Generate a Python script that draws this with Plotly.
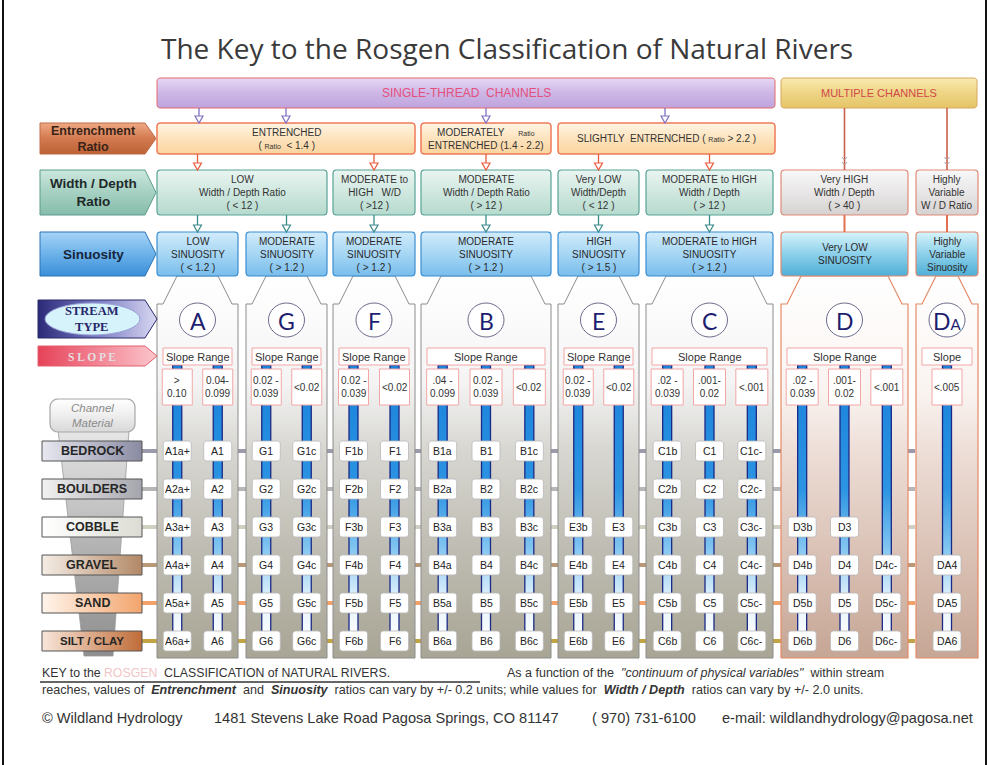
import math
import plotly.graph_objects as go

# ---------------- data (text content of the key) ----------------
TITLE = "The Key to the Rosgen Classification of Natural Rivers"
GROUPS = ["SINGLE-THREAD  CHANNELS", "MULTIPLE CHANNELS"]
ROW_NAMES = ["Entrenchment<br>Ratio", "Width / Depth<br>Ratio", "Sinuosity"]
STREAM_TYPES = ["A", "G", "F", "B", "E", "C", "D", "DA"]
STREAM_LABELS = ["A", "G", "F", "B", "E", "C", "D", "D<span style='font-size:15px'>A</span>"]

ENTRENCH_TEXT = [
    "ENTRENCHED<br>( <span style='font-size:7px'>Ratio</span>  &lt; 1.4 )",
    "MODERATELY     <span style='font-size:7px'>Ratio</span><br>ENTRENCHED (1.4 - 2.2)",
    "SLIGHTLY  ENTRENCHED ( <span style='font-size:7px'>Ratio</span> &gt; 2.2 )",
]
ENTRENCH_SPAN = [("A", "F"), ("B", "B"), ("E", "C")]

WD_TEXT = [
    "LOW<br>Width / Depth Ratio<br>( &lt; 12 )",
    "MODERATE to<br>HIGH   W/D<br>( &gt;12 )",
    "MODERATE<br>Width / Depth Ratio<br>( &gt; 12 )",
    "Very LOW<br>Width/Depth<br>( &lt; 12 )",
    "MODERATE to HIGH<br>Width / Depth<br>( &gt; 12 )",
    "Very HIGH<br>Width / Depth<br>( &gt; 40 )",
    "Highly<br>Variable<br>W / D Ratio",
]
WD_SPAN = [("A", "G"), ("F", "F"), ("B", "B"), ("E", "E"), ("C", "C"), ("D", "D"), ("DA", "DA")]

SIN_TEXT = [
    "LOW<br>SINUOSITY<br>( &lt; 1.2 )",
    "MODERATE<br>SINUOSITY<br>( &gt; 1.2 )",
    "MODERATE<br>SINUOSITY<br>( &gt; 1.2 )",
    "MODERATE<br>SINUOSITY<br>( &gt; 1.2 )",
    "HIGH<br>SINUOSITY<br>( &gt; 1.5 )",
    "MODERATE to HIGH<br>SINUOSITY<br>( &gt; 1.2 )",
    "Very LOW<br>SINUOSITY",
    "Highly<br>Variable<br>Sinuosity",
]

SLOPE_HEAD = ["Slope Range"] * 7 + ["Slope"]
SLOPE_VALUES = [
    ["&gt;<br>0.10", "0.04-<br>0.099"],
    ["0.02 -<br>0.039", "&lt;0.02"],
    ["0.02 -<br>0.039", "&lt;0.02"],
    [".04 -<br>0.099", "0.02 -<br>0.039", "&lt;0.02"],
    ["0.02 -<br>0.039", "&lt;0.02"],
    [".02 -<br>0.039", ".001-<br>0.02", "&lt;.001"],
    [".02 -<br>0.039", ".001-<br>0.02", "&lt;.001"],
    ["&lt;.005"],
]

MATERIALS = ["BEDROCK", "BOULDERS", "COBBLE", "GRAVEL", "SAND", "SILT / CLAY"]

CELLS = [
    [["A1a+", "A2a+", "A3a+", "A4a+", "A5a+", "A6a+"], ["A1", "A2", "A3", "A4", "A5", "A6"]],
    [["G1", "G2", "G3", "G4", "G5", "G6"], ["G1c", "G2c", "G3c", "G4c", "G5c", "G6c"]],
    [["F1b", "F2b", "F3b", "F4b", "F5b", "F6b"], ["F1", "F2", "F3", "F4", "F5", "F6"]],
    [["B1a", "B2a", "B3a", "B4a", "B5a", "B6a"], ["B1", "B2", "B3", "B4", "B5", "B6"],
     ["B1c", "B2c", "B3c", "B4c", "B5c", "B6c"]],
    [[None, None, "E3b", "E4b", "E5b", "E6b"], [None, None, "E3", "E4", "E5", "E6"]],
    [["C1b", "C2b", "C3b", "C4b", "C5b", "C6b"], ["C1", "C2", "C3", "C4", "C5", "C6"],
     ["C1c-", "C2c-", "C3c-", "C4c-", "C5c-", "C6c-"]],
    [[None, None, "D3b", "D4b", "D5b", "D6b"], [None, None, "D3", "D4", "D5", "D6"],
     [None, None, None, "D4c-", "D5c-", "D6c-"]],
    [[None, None, None, "DA4", "DA5", "DA6"]],
]

NOTE_KEY = "KEY to the <span style='color:#f2c6c6'>ROSGEN</span>  CLASSIFICATION of NATURAL RIVERS."
NOTE_A = "As a function of the  <i>\"continuum of physical variables\"</i>  within stream"
NOTE_B = ("reaches, values of  <b><i>Entrenchment</i></b>  and  <b><i>Sinuosity</i></b>  ratios can vary by +/- 0.2 units; "
          "while values for  <b><i>Width / Depth</i></b>  ratios can vary by +/- 2.0 units.")
FOOTER = ["© Wildland Hydrology", "1481 Stevens Lake Road Pagosa Springs, CO 81147",
          "( 970) 731-6100", "e-mail: wildlandhydrology@pagosa.net"]

# ---------------- layout geometry / style ----------------
W, H = 989, 765
COL_X0 = [157, 246, 333, 421, 558, 646, 781, 916]
COL_X1 = [238, 327, 415, 551, 639, 773, 908, 978]
GROUP_X = [(157, 775), (781, 977)]
GROUP_Y = (78, 108)
ENT_Y = (123, 154)
WD_Y = (170, 215)
SIN_Y = (232, 276)
SHOULDER_Y = 304
PANEL_BOT = 658
CIRCLE_Y = 320
SLOPE_HEAD_Y = (348, 365)
SLOPE_VAL_Y = (369, 405)
ROW_Y = [451, 489, 527, 565, 603, 641]
MAT_COLORS = [("#e8e8f0", "#8a8aa2"), ("#f2f2f2", "#a4a4ac"), ("#ffffff", "#dcdcd4"),
               ("#f5ede6", "#b28866"), ("#fff5ec", "#f2a46c"), ("#f8e6da", "#bf6c38")]
CONN_COLORS = ["#9a9aaa", "#b6b6b8", "#cfcfc2", "#b89876", "#f2a268", "#c2a444"]
FONT = "Liberation Sans Narrow, Arial Narrow, Liberation Sans, Arial, sans-serif"
FONT_R = "Liberation Sans, Arial, sans-serif"

fig = go.Figure()
shapes = []
annots = []


def idx(t):
    return STREAM_TYPES.index(t)


def rr_pts(x0, y0, x1, y1, r, n=5):
    pts = []
    corners = [(x1 - r, y0 + r, -90, 0), (x1 - r, y1 - r, 0, 90),
               (x0 + r, y1 - r, 90, 180), (x0 + r, y0 + r, 180, 270)]
    for cx, cy, a0, a1 in corners:
        for k in range(n + 1):
            a = math.radians(a0 + (a1 - a0) * k / n)
            pts.append((cx + r * math.cos(a), cy + r * math.sin(a)))
    pts.append(pts[0])
    return [p[0] for p in pts], [p[1] for p in pts]


def path_of(xs, ys):
    return "M " + " L ".join(f"{x:.2f},{y:.2f}" for x, y in zip(xs, ys)) + " Z"


def gpoly(xs, ys, colors, line="#888", lw=1.0, orient="vertical"):
    if orient == "vertical":
        start, stop = min(ys), max(ys)
    else:
        start, stop = min(xs), max(xs)
    if isinstance(colors[0], (list, tuple)):
        cs = [list(c) for c in colors]
    else:
        n = len(colors)
        cs = [[i / (n - 1), c] for i, c in enumerate(colors)]
    fig.add_trace(go.Scatter(
        x=xs, y=ys, mode="lines", fill="toself",
        fillgradient=dict(type=orient, colorscale=cs, start=start, stop=stop),
        line=dict(color=line, width=lw), hoverinfo="skip", showlegend=False))


def text(x, y, s, size=10, color="#333", family=FONT, xanchor="center", align="center"):
    annots.append(dict(x=x, y=y, xref="x", yref="y", text=s, showarrow=False,
                       font=dict(size=size, color=color, family=family),
                       xanchor=xanchor, yanchor="middle", align=align))


def arrow(x, y0, y1, color):
    shapes.append(dict(type="line", x0=x, x1=x, y0=y0, y1=y1 - 6, xref="x", yref="y",
                       line=dict(color=color, width=1.3), layer="above"))
    shapes.append(dict(type="path", path=f"M {x-4},{y1-7} L {x+4},{y1-7} L {x},{y1} Z",
                       xref="x", yref="y", fillcolor="white", line=dict(color=color, width=1.2),
                       layer="above"))


def sub_centers(i):
    x0, x1 = COL_X0[i], COL_X1[i]
    n = len(CELLS[i])
    w = x1 - x0
    if n == 1:
        return [(x0 + x1) / 2]
    if n == 2:
        return [x0 + w * 0.25, x0 + w * 0.75]
    return [x0 + w / 6, x0 + w / 2, x0 + w * 5 / 6]


# ---- material connector lines (behind panels)
for r, y in enumerate(ROW_Y):
    shapes.append(dict(type="line", x0=140, x1=915, y0=y, y1=y, xref="x", yref="y",
                       line=dict(color=CONN_COLORS[r], width=4), layer="below"))

# ---- panels
for i, t in enumerate(STREAM_TYPES):
    x0, x1 = COL_X0[i], COL_X1[i]
    xs = [x0, x0, x0 + 6, x0 + 20, x1 - 20, x1 - 6, x1, x1, x0]
    ys = [PANEL_BOT, SHOULDER_Y, SHOULDER_Y, SIN_Y[1], SIN_Y[1], SHOULDER_Y, SHOULDER_Y, PANEL_BOT, PANEL_BOT]
    if t in ("D", "DA"):
        gpoly(xs, ys, [[0, "#ffffff"], [0.3, "#faf4f1"], [0.45, "#eedfd8"], [0.7, "#dcc4b8"],
                       [1, "#c6a695"]], line="#e48a66", lw=1.2)
    else:
        gpoly(xs, ys, [[0, "#ffffff"], [0.28, "#f4f4f4"], [0.45, "#d8d7d2"], [0.7, "#c0beb4"],
                       [1, "#a8a595"]], line="#8c8c8c", lw=1)

# ---- blue bars
for i, t in enumerate(STREAM_TYPES):
    for xc in sub_centers(i):
        xs = [xc - 4.5, xc + 4.5, xc + 4.5, xc - 4.5, xc - 4.5]
        ys = [SLOPE_HEAD_Y[1], SLOPE_HEAD_Y[1], ROW_Y[-1], ROW_Y[-1], SLOPE_HEAD_Y[1]]
        gpoly(xs, ys, [[0, "#1a82da"], [0.45, "#2c94e2"], [0.65, "#7cc2f0"], [0.85, "#e2f2fc"],
                       [1, "#ffffff"]], line="#1b2a86", lw=1.3)

# ---- channel-group header boxes
xs, ys = rr_pts(GROUP_X[0][0], GROUP_Y[0], GROUP_X[0][1], GROUP_Y[1], 3)
gpoly(xs, ys, ["#e6d8f4", "#cdb6e6", "#bfa4dd"], line="#e46a6a", lw=1)
text((GROUP_X[0][0] + GROUP_X[0][1]) / 2, 93, GROUPS[0], size=12, color="#e4507c")
xs, ys = rr_pts(GROUP_X[1][0], GROUP_Y[0], GROUP_X[1][1], GROUP_Y[1], 3)
gpoly(xs, ys, ["#f8eab0", "#eed585", "#e4c466"], line="#d8a860", lw=1)
text((GROUP_X[1][0] + GROUP_X[1][1]) / 2, 93, GROUPS[1], size=11, color="#d04848")

# ---- row label tags
TAG_COLORS = [(["#eeaa84", "#d37a50", "#bd6236"], "#c06a48", "#3a2418", 12.5),
              (["#cde8de", "#a5d0c2", "#86bcaa"], "#5b9c8c", "#1e2a2a", 13.5),
              (["#a6d4f6", "#6cb2ea", "#3a8ed8"], "#2a72b6", "#16243c", 13.5)]
for k, (y0, y1) in enumerate([ENT_Y, WD_Y, SIN_Y]):
    cols, lc, tc, fs = TAG_COLORS[k]
    xs = [40, 145, 156, 145, 40, 40]
    ys = [y0, y0, (y0 + y1) / 2, y1, y1, y0]
    gpoly(xs, ys, cols, line=lc, lw=1)
    text(93, (y0 + y1) / 2, f"<b>{ROW_NAMES[k]}</b>", size=fs, color=tc, family=FONT_R)

# ---- entrenchment boxes
for k, (a, b) in enumerate(ENTRENCH_SPAN):
    x0, x1 = COL_X0[idx(a)], COL_X1[idx(b)]
    if k == 2:
        x1 = 775
    xs, ys = rr_pts(x0, ENT_Y[0], x1, ENT_Y[1], 3)
    gpoly(xs, ys, ["#fff5e4", "#fde3bd", "#fbd49e"], line="#f07a58", lw=1.5)
    text((x0 + x1) / 2, (ENT_Y[0] + ENT_Y[1]) / 2, ENTRENCH_TEXT[k], size=10, color="#333")

# ---- width/depth boxes
for k, (a, b) in enumerate(WD_SPAN):
    x0, x1 = COL_X0[idx(a)], COL_X1[idx(b)]
    xs, ys = rr_pts(x0, WD_Y[0], x1, WD_Y[1], 3)
    if a in ("D", "DA"):
        gpoly(xs, ys, ["#f8f8f8", "#e8e6e6", "#d6d2d2"], line="#de8a78", lw=1.2)
    else:
        gpoly(xs, ys, ["#eaf5f1", "#cfe7df", "#b6dace"], line="#58a496", lw=1.2)
    text((x0 + x1) / 2, (WD_Y[0] + WD_Y[1]) / 2, WD_TEXT[k], size=10, color="#333")

# ---- sinuosity boxes
for i, t in enumerate(STREAM_TYPES):
    x0, x1 = COL_X0[i], COL_X1[i]
    xs, ys = rr_pts(x0, SIN_Y[0], x1, SIN_Y[1], 3)
    if t in ("D", "DA"):
        gpoly(xs, ys, ["#d8f4fb", "#8cd0ea", "#4eaed6"], line="#e08a70", lw=1.2)
    else:
        gpoly(xs, ys, ["#d2ecfb", "#a6d6f4", "#78bdec"], line="#3a8ed0", lw=1.2)
    text((x0 + x1) / 2, (SIN_Y[0] + SIN_Y[1]) / 2, SIN_TEXT[i], size=10, color="#2a2a2a")

# ---- arrows
for x in [199, 286, 486, 665]:
    arrow(x, GROUP_Y[1], ENT_Y[0], "#8070c4")
for t in ["A", "F", "B", "E", "C"]:
    arrow((COL_X0[idx(t)] + COL_X1[idx(t)]) / 2, ENT_Y[1], WD_Y[0], "#ec5a3c")
for t in ["A", "G", "F", "B", "E", "C"]:
    arrow((COL_X0[idx(t)] + COL_X1[idx(t)]) / 2, WD_Y[1], SIN_Y[0], "#3a8a8c")
for t in ["D", "DA"]:
    xc = (COL_X0[idx(t)] + COL_X1[idx(t)]) / 2
    shapes.append(dict(type="line", x0=xc, x1=xc, y0=GROUP_Y[1], y1=WD_Y[0], xref="x", yref="y",
                       line=dict(color="#c8604a", width=1.6), layer="above"))
    shapes.append(dict(type="line", x0=xc, x1=xc, y0=WD_Y[1], y1=SIN_Y[0], xref="x", yref="y",
                       line=dict(color="#e07050", width=2), layer="above"))
    for yy in [157, 162]:
        shapes.append(dict(type="path", path=f"M {xc-2.5},{yy} L {xc},{yy+3} L {xc+2.5},{yy}",
                           xref="x", yref="y", line=dict(color="#b0a0a0", width=1), layer="above"))

# ---- stream type circles, slope headers and values, cells
for i, t in enumerate(STREAM_TYPES):
    x0, x1 = COL_X0[i], COL_X1[i]
    xc = (x0 + x1) / 2
    shapes.append(dict(type="circle", x0=xc - 18, x1=xc + 18, y0=CIRCLE_Y - 17, y1=CIRCLE_Y + 17,
                       xref="x", yref="y", fillcolor="white", line=dict(color="#6c6c8c", width=1),
                       layer="above"))
    text(xc, CIRCLE_Y + 1, STREAM_LABELS[i], size=23, color="#1e1e70", family="Lato, Open Sans, sans-serif")
    shapes.append(dict(type="rect", x0=x0 + 6, x1=x1 - 6, y0=SLOPE_HEAD_Y[0], y1=SLOPE_HEAD_Y[1],
                       xref="x", yref="y", fillcolor="white", line=dict(color="#f2a6a6", width=1),
                       layer="above"))
    text(xc, (SLOPE_HEAD_Y[0] + SLOPE_HEAD_Y[1]) / 2, SLOPE_HEAD[i], size=11, color="#333")
    centers = sub_centers(i)
    bw = 15 if len(centers) < 3 else 16
    for j, sc in enumerate(centers):
        shapes.append(dict(type="rect", x0=sc - bw, x1=sc + bw, y0=SLOPE_VAL_Y[0], y1=SLOPE_VAL_Y[1],
                           xref="x", yref="y", fillcolor="white", line=dict(color="#f2a6a6", width=1),
                           layer="above"))
        text(sc, (SLOPE_VAL_Y[0] + SLOPE_VAL_Y[1]) / 2, SLOPE_VALUES[i][j], size=10, color="#333")
        for r, lab in enumerate(CELLS[i][j]):
            if lab is None:
                continue
            y = ROW_Y[r]
            xs, ys = rr_pts(sc - 14, y - 10, sc + 14, y + 10, 3)
            shapes.append(dict(type="path", path=path_of(xs, ys), xref="x", yref="y",
                               fillcolor="white", line=dict(color="#b8b8b8", width=0.8), layer="above"))
            text(sc, y, lab, size=10.5, color="#222")

# ---- left-side legend: stream type, slope, channel material funnel, materials
xs = [38, 145, 157, 145, 38, 38]
ys = [300, 300, 319, 338, 338, 300]
gpoly(xs, ys, ["#2a2a78", "#7c7cc4", "#d8d8f2"], line="#2a2a6a", lw=1, orient="horizontal")
shapes.append(dict(type="circle", x0=45, x1=140, y0=303, y1=335, xref="x", yref="y",
                   fillcolor="#d6f2fb", line=dict(color="#9aa2d8", width=1), layer="above"))
text(92, 319, "<b>STREAM<br>TYPE</b>", size=12.5, color="#26286a", family="Liberation Serif, serif")

xs = [38, 145, 157, 145, 38, 38]
ys = [346, 346, 356, 366, 366, 346]
gpoly(xs, ys, ["#e64258", "#f28494", "#fbc6cc"], line="#e06070", lw=1, orient="horizontal")
text(92, 356.5, "<b>S L O P E</b>", size=11.5, color="#e6dede", family="Liberation Serif, serif")

xs = [58, 129, 113, 84, 58]
ys = [430, 430, 656, 656, 430]
gpoly(xs, ys, ["#e6e6e6", "#b4b4b4", "#8e8e8e"], line="#9a9a9a", lw=0.8)
xs, ys = rr_pts(50, 399, 135, 432, 8)
gpoly(xs, ys, ["#ffffff", "#eeeeee", "#d8d8d8"], line="#a8a8a8", lw=1.2)
text(92.5, 415.5, "<i>Channel<br>Material</i>", size=11.5, color="#8a8a8a", family=FONT_R)

for r, y in enumerate(ROW_Y):
    c0, c1 = MAT_COLORS[r]
    xs = [42, 142, 142, 42, 42]
    ys = [y - 10, y - 10, y + 10, y + 10, y - 10]
    gpoly(xs, ys, [c0, c1], line="#555", lw=1, orient="horizontal")
    text(92, y, f"<b>{MATERIALS[r]}</b>", size=12.5 if r < 5 else 11.5, color="#262626", family=FONT_R)

# ---- title, notes, footer
text(507, 48, TITLE, size=28, color="#3a3a3a", family="Open Sans, Liberation Sans, sans-serif")
text(40, 673, NOTE_KEY, size=12.3, color="#333", family=FONT_R, xanchor="left", align="left")
shapes.append(dict(type="line", x0=40, x1=480, y0=682, y1=682, xref="x", yref="y",
                   line=dict(color="#333", width=1.3), layer="above"))
text(505, 673, NOTE_A, size=12.5, color="#333", family=FONT_R, xanchor="left", align="left")
text(40, 690, NOTE_B, size=12.6, color="#333", family=FONT_R, xanchor="left", align="left")
for x, s in zip([40, 212, 590, 720], FOOTER):
    text(x, 718, s, size=14.6, color="#333", family=FONT_R, xanchor="left", align="left")

# ---- page frame (left/right rules)
for x in [3, 986]:
    shapes.append(dict(type="line", x0=x, x1=x, y0=0, y1=H, xref="x", yref="y",
                       line=dict(color="#111", width=2), layer="above"))

fig.update_layout(
    width=W, height=H, margin=dict(l=0, r=0, t=0, b=0),
    paper_bgcolor="white", plot_bgcolor="white", showlegend=False,
    xaxis=dict(range=[0, W], visible=False, fixedrange=True),
    yaxis=dict(range=[H, 0], visible=False, fixedrange=True),
    shapes=shapes, annotations=annots, hovermode=False,
)

fig.write_html("out.html", config={"displayModeBar": False, "staticPlot": True},
               post_script="document.body.style.margin='0';document.body.style.overflow='hidden';")
